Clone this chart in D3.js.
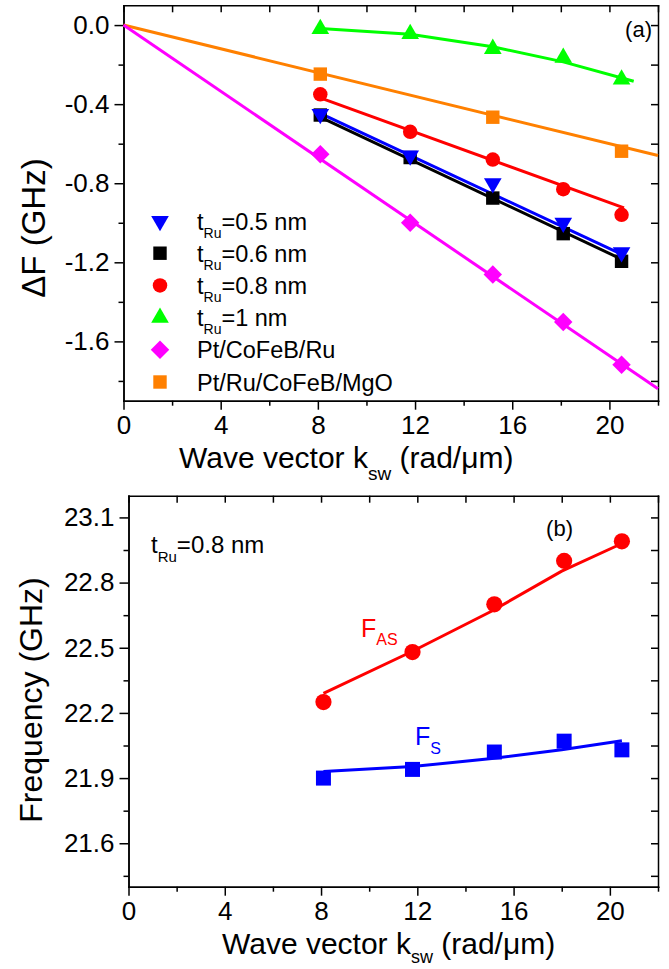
<!DOCTYPE html>
<html>
<head>
<meta charset="utf-8">
<script src="https://cdn.jsdelivr.net/npm/d3@7"></script>
<style>
  body { margin: 0; background: #fff; }
  svg { display: block; font-family: "Liberation Sans", Arial, sans-serif; }
  .axis path, .axis line { stroke: #000; stroke-width: 1.5; }
  .axis text { font-size: 26px; fill: #000; font-family: "Liberation Sans", Arial, sans-serif; }
</style>
</head>
<body>
<svg id="svg" width="669" height="969"></svg>
<script>
/* global d3 */

// measured wave vectors (rad/um)
const kValues = [8.1, 11.8, 15.2, 18.1, 20.5];
const kOrange = [8.1, 15.2, 20.5];

// panel (a): frequency shift dF (GHz)
const dF05 = [-0.45, -0.66, -0.8, -1.0, -1.15];
const dF06 = [-0.455, -0.67, -0.875, -1.055, -1.195];
const dF08 = [-0.35, -0.54, -0.68, -0.83, -0.96];
const dF10 = [-0.02, -0.045, -0.12, -0.165, -0.275];
const dFPtCoFeBRu = [-0.653, -1.0, -1.262, -1.502, -1.718];
const dFPtRuCoFeB = [-0.248, -0.466, -0.638];

// panel (a): fitted curves
const fitK2 = [8.1, 20.6];
const fit05 = [-0.447, -1.165];
const fit06 = [-0.466, -1.19];
const fit08 = [-0.368, -0.925];
const fitK10 = [8.1, 11.8, 15.2, 18.1, 21];
const fit10 = [-0.017, -0.047, -0.11, -0.186, -0.284];
const fitKOrigin = [0, 22];
const fitPtCoFeBRu = [0, -1.84];
const fitPtRuCoFeB = [0, -0.66];

// panel (b): frequencies (GHz)
const fAS = [22.25, 22.48, 22.7, 22.9, 22.99];
const fS = [21.9, 21.94, 22.02, 22.07, 22.03];
const fitKB = [8.1, 11.8, 15.1, 18.0, 20.5];
const fitAS = [22.29, 22.484, 22.669, 22.853, 22.98];
const fitS = [21.93, 21.953, 21.99, 22.03, 22.072];

// ticks
const xMajor = [0, 4, 8, 12, 16, 20];
const xMinor = [2, 6, 10, 14, 18, 22];
const yMajorA = [0, -0.4, -0.8, -1.2, -1.6];
const yMinorA = [-0.2, -0.6, -1.0, -1.4, -1.8];
const yMajorB = [21.6, 21.9, 22.2, 22.5, 22.8, 23.1];
const yMinorB = [21.45, 21.75, 22.05, 22.35, 22.65, 22.95];

const legendMain = ["t", "t", "t", "t", "Pt/CoFeB/Ru", "Pt/Ru/CoFeB/MgO"];
const legendSub = ["Ru", "Ru", "Ru", "Ru", "", ""];
const legendTail = ["=0.5 nm", "=0.6 nm", "=0.8 nm", "=1 nm", "", ""];

const svg = d3.select("#svg");
svg.append("rect").attr("width", 669).attr("height", 969).attr("fill", "#fff");

const symbolPath = (type, size) => d3.symbol().type(type).size(size)();

const markers = {
  down: { type: d3.symbolTriangle, size: 135, rotate: 180 },
  up: { type: d3.symbolTriangle, size: 135, rotate: 0 },
  square: { type: d3.symbolSquare, size: 180, rotate: 0 },
  circle: { type: d3.symbolCircle, size: 165, rotate: 0 },
  diamond: { type: d3.symbolSquare, size: 170, rotate: 45 }
};

const drawFrame = (g, x, y, yMajor, yMinor, yFormat, xPad) => {
  const [y0, y1] = y.range();
  const [x0, x1] = x.range();
  g.append("g").attr("class", "axis").attr("transform", `translate(0,${y0})`)
    .call(d3.axisBottom(x).tickValues(xMajor).tickSize(9).tickSizeOuter(0).tickPadding(xPad));
  g.append("g").attr("class", "axis").attr("transform", `translate(0,${y0})`)
    .call(d3.axisBottom(x).tickValues(xMinor).tickSize(5).tickSizeOuter(0).tickFormat(""));
  g.append("g").attr("class", "axis").attr("transform", `translate(0,${y1})`)
    .call(d3.axisTop(x).tickValues(xMajor.concat(xMinor)).tickSize(-7).tickSizeOuter(0).tickFormat(""));
  g.append("g").attr("class", "axis").attr("transform", `translate(${x0},0)`)
    .call(d3.axisLeft(y).tickValues(yMajor).tickSize(9).tickSizeOuter(0).tickPadding(5).tickFormat(yFormat));
  g.append("g").attr("class", "axis").attr("transform", `translate(${x0},0)`)
    .call(d3.axisLeft(y).tickValues(yMinor).tickSize(5).tickSizeOuter(0).tickFormat(""));
  g.append("g").attr("class", "axis").attr("transform", `translate(${x1},0)`)
    .call(d3.axisRight(y).tickValues(yMajor.concat(yMinor)).tickSize(-7).tickSizeOuter(0).tickFormat(""));
  g.selectAll(".axis .domain").attr("stroke-linecap", "square");
};

const drawFit = (g, x, y, ks, vals, color) => {
  g.append("path")
    .datum(ks.map((k, i) => [k, vals[i]]))
    .attr("fill", "none")
    .attr("stroke", color)
    .attr("stroke-width", 3)
    .attr("d", d3.line().x(d => x(d[0])).y(d => y(d[1])));
};

const drawPoints = (g, x, y, ks, vals, color, m, scale = 1) => {
  g.append("g")
    .selectAll("path")
    .data(ks.map((k, i) => [k, vals[i]]))
    .join("path")
    .attr("d", symbolPath(m.type, m.size * scale))
    .attr("transform", d => `translate(${x(d[0])},${y(d[1])}) rotate(${m.rotate})`)
    .attr("fill", color);
};

const subText = (g, x, y, parts, opts) => {
  const t = g.append("text")
    .attr("x", x)
    .attr("y", y)
    .attr("font-size", opts.size)
    .attr("fill", opts.color || "#000")
    .attr("text-anchor", opts.anchor || "start");
  t.append("tspan").text(parts[0]);
  if (parts[1]) {
    t.append("tspan").attr("font-size", opts.subSize).attr("dy", opts.subDy).text(parts[1]);
  }
  if (parts[2]) {
    t.append("tspan").attr("dy", parts[1] ? -opts.subDy : 0).text(parts[2]);
  }
  return t;
};

// ---------- panel (a)
const xA = d3.scaleLinear().domain([0, 22]).range([123.5, 658]);
const yA = d3.scaleLinear().domain([-1.9, 0.1]).range([400.7, 5.3]);
const gA = svg.append("g");

drawFrame(gA, xA, yA, yMajorA, yMinorA, d => d.toFixed(1), 6);

drawFit(gA, xA, yA, fitKOrigin, fitPtRuCoFeB, "#ff8000");
drawFit(gA, xA, yA, fitKOrigin, fitPtCoFeBRu, "#ff00ff");
drawFit(gA, xA, yA, fitK10, fit10, "#00ff00");
drawFit(gA, xA, yA, fitK2, fit08, "#ff0000");
drawFit(gA, xA, yA, fitK2, fit06, "#000000");
drawFit(gA, xA, yA, fitK2, fit05, "#0000ff");

drawPoints(gA, xA, yA, kOrange, dFPtRuCoFeB, "#ff8000", markers.square);
drawPoints(gA, xA, yA, kValues, dFPtCoFeBRu, "#ff00ff", markers.diamond);
drawPoints(gA, xA, yA, kValues, dF10, "#00ff00", markers.up);
drawPoints(gA, xA, yA, kValues, dF08, "#ff0000", markers.circle);
drawPoints(gA, xA, yA, kValues, dF06, "#000000", markers.square);
drawPoints(gA, xA, yA, kValues, dF05, "#0000ff", markers.down);

const legendColors = ["#0000ff", "#000000", "#ff0000", "#00ff00", "#ff00ff", "#ff8000"];
const legendMarkers = [markers.down, markers.square, markers.circle, markers.up, markers.diamond, markers.square];
const legendRow = d3.scaleLinear().domain([0, 5]).range([221, 382]);

legendMain.forEach((label, i) => {
  const m = legendMarkers[i];
  gA.append("path")
    .attr("d", symbolPath(m.type, m.size))
    .attr("transform", `translate(160,${legendRow(i)}) rotate(${m.rotate})`)
    .attr("fill", legendColors[i]);
  subText(gA, 197, legendRow(i) + 8.5, [label, legendSub[i], legendTail[i]],
    { size: 23.5, subSize: 14, subDy: 8 });
});

gA.append("text").attr("x", 652).attr("y", 37).attr("text-anchor", "end")
  .attr("font-size", 22).text("(a)");

gA.append("text")
  .attr("transform", "translate(45,228) rotate(-90)")
  .attr("text-anchor", "middle")
  .attr("font-size", 33)
  .text("\u0394F (GHz)");

subText(gA, 179, 468, ["Wave vector k", "sw", " (rad/\u03bcm)"],
  { size: 30, subSize: 19, subDy: 12 });

// ---------- panel (b)
const xB = d3.scaleLinear().domain([0, 22]).range([128.5, 658]);
const yB = d3.scaleLinear().domain([21.4, 23.2]).range([886.7, 495.7]);
const gB = svg.append("g");

drawFrame(gB, xB, yB, yMajorB, yMinorB, d => d.toFixed(1), 6);

drawFit(gB, xB, yB, fitKB, fitAS, "#ff0000");
drawFit(gB, xB, yB, fitKB, fitS, "#0000ff");
drawPoints(gB, xB, yB, kValues, fAS, "#ff0000", markers.circle, 1.25);
drawPoints(gB, xB, yB, kValues, fS, "#0000ff", markers.square, 1.25);

subText(gB, 151, 553, ["t", "Ru", "=0.8 nm"], { size: 24, subSize: 15, subDy: 9 });
gB.append("text").attr("x", 573).attr("y", 536).attr("text-anchor", "end")
  .attr("font-size", 22).text("(b)");
subText(gB, 361, 637, ["F", "AS"], { size: 25, subSize: 16, subDy: 8, color: "#ff0000" });
subText(gB, 415, 745, ["F", "S"], { size: 25, subSize: 16, subDy: 9, color: "#0000ff" });

gB.append("text")
  .attr("transform", "translate(42,700) rotate(-90)")
  .attr("text-anchor", "middle")
  .attr("font-size", 32)
  .text("Frequency (GHz)");

subText(gB, 222, 954, ["Wave vector k", "sw", " (rad/\u03bcm)"],
  { size: 30, subSize: 18, subDy: 9 });
</script>
</body>
</html>
